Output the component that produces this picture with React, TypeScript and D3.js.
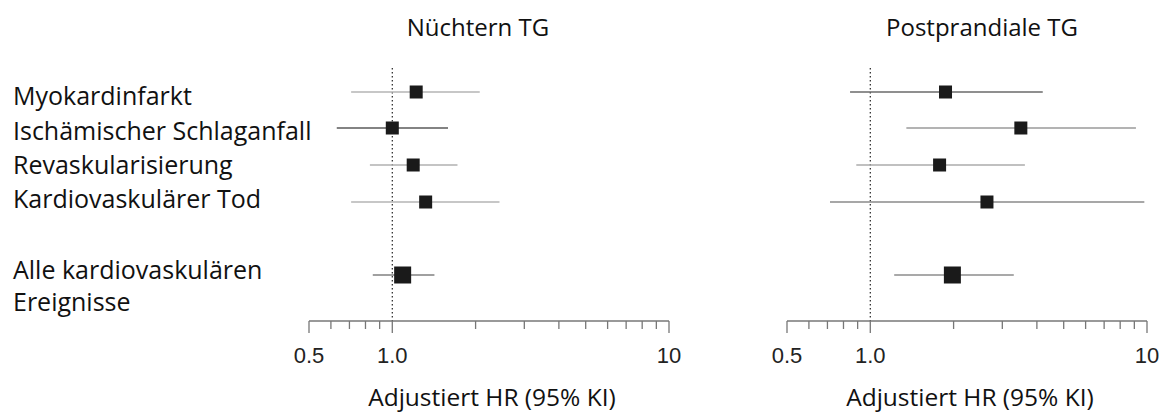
import React from "react";
import * as d3 from "d3";

const categories = ["Myokardinfarkt", "Ischämischer Schlaganfall", "Revaskularisierung", "Kardiovaskulärer Tod", "Alle kardiovaskulären Ereignisse"];
const panelTitles = ["Nüchtern TG", "Postprandiale TG"];
const fastingHR = [1.22, 1.0, 1.19, 1.32, 1.09];
const fastingLo = [0.71, 0.63, 0.83, 0.71, 0.85];
const fastingHi = [2.07, 1.59, 1.72, 2.44, 1.42];
const postHR = [1.87, 3.5, 1.78, 2.64, 1.98];
const postLo = [0.845, 1.35, 0.89, 0.715, 1.22];
const postHi = [4.2, 9.12, 3.62, 9.78, 3.3];
const majorTicks = [0.5, 1, 10];
const majorTickLabels = ["0.5", "1.0", "10"];
const minorTicks = [0.6, 0.7, 0.8, 0.9, 2, 3, 4, 5, 6, 7, 8, 9];
const axisTitle = "Adjustiert HR (95% KI)";

const lineColors = [
  ["#b4b4b4", "#5a5a5a", "#b0b0b0", "#b4b4b4", "#808080"],
  ["#6a6a6a", "#9a9a9a", "#ababab", "#8a8a8a", "#8c8c8c"],
];

const rowY = [92, 128, 165, 202, 275];
const labelLines = [["Myokardinfarkt"], ["Ischämischer Schlaganfall"], ["Revaskularisierung"], ["Kardiovaskulärer Tod"], ["Alle kardiovaskulären", "Ereignisse"]];
const labelY = [95, 130, 164, 198, 269];

export default function App() {
  const W = 1165, H = 414;
  const panels = [
    { x0: 309, title: panelTitles[0], hr: fastingHR, lo: fastingLo, hi: fastingHi, titleX: 478 },
    { x0: 787, title: panelTitles[1], hr: postHR, lo: postLo, hi: postHi, titleX: 982 },
  ];
  const textFont = "'Open Sans', Lato, sans-serif";
  const axisY = 321;
  return (
    <svg width={W} height={H} style={{ position: "absolute", left: 0, top: 0, background: "#fff" }}>
      {labelLines.map((lines, i) =>
        lines.map((t, j) => (
          <text key={`l${i}-${j}`} x={13} y={labelY[i] + j * 32} fontFamily={textFont} fontSize={25} fill="#111" dominantBaseline="central">
            {t}
          </text>
        ))
      )}
      {panels.map((p, pi) => {
        const x = d3.scaleLog().domain([0.5, 10]).range([p.x0, p.x0 + 360]);
        return (
          <g key={pi}>
            <text x={p.titleX} y={26} textAnchor="middle" fontFamily={textFont} fontSize={24} fill="#111" dominantBaseline="central">
              {p.title}
            </text>
            <line x1={x(1)} x2={x(1)} y1={68} y2={axisY} stroke="#222" strokeWidth={1.2} strokeDasharray="1.5,2.5" />
            {p.hr.map((v, i) => {
              const s = i === 4 ? 17 : 13;
              return (
                <g key={i}>
                  <line x1={x(p.lo[i])} x2={x(p.hi[i])} y1={rowY[i]} y2={rowY[i]} stroke={lineColors[pi][i]} strokeWidth={1.5} />
                  <rect x={x(v) - s / 2} y={rowY[i] - s / 2} width={s} height={s} fill="#1a1a1a" />
                </g>
              );
            })}
            <line x1={x(0.5)} x2={x(10)} y1={axisY} y2={axisY} stroke="#777" strokeWidth={1.3} />
            {majorTicks.map((t) => (
              <line key={`M${t}`} x1={x(t)} x2={x(t)} y1={axisY} y2={axisY + 12} stroke="#777" strokeWidth={1.3} />
            ))}
            {minorTicks.map((t) => (
              <line key={`m${t}`} x1={x(t)} x2={x(t)} y1={axisY} y2={axisY + 8} stroke="#777" strokeWidth={1.3} />
            ))}
            {majorTicks.map((t, i) => (
              <text key={`t${t}`} x={x(t)} y={355} textAnchor="middle" fontFamily="'Liberation Sans', Arial, sans-serif" fontSize={22} fill="#222" dominantBaseline="central">
                {majorTickLabels[i]}
              </text>
            ))}
            <text x={p.x0 + 183} y={396} textAnchor="middle" fontFamily={textFont} fontSize={24.5} fill="#111" dominantBaseline="central">
              {axisTitle}
            </text>
          </g>
        );
      })}
    </svg>
  );
}
